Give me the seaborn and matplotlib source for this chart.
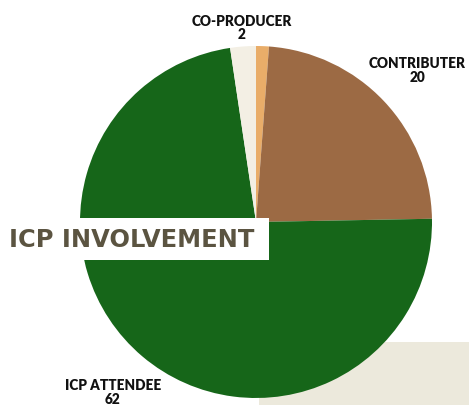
import numpy as np
import matplotlib
matplotlib.use("Agg")
import matplotlib.pyplot as plt
import matplotlib.patches as mpatches
import seaborn as sns

# data
categories = ["", "CONTRIBUTER", "ICP ATTENDEE", "CO-PRODUCER"]
values = [1, 20, 62, 2]
show_label = [False, True, True, True]
colors = ["#e9ad69", "#9c6a44", "#166619", "#f3efe4"]
label_dist = [1.2, 1.26, 1.26, 1.11]

sns.set_theme(style="white")
plt.rcParams["font.family"] = ["Lato", "DejaVu Sans"]

W, H = 469, 406
fig = plt.figure(figsize=(W / 100, H / 100), dpi=100)
ax = fig.add_axes([0, 0, 1, 1])

cx, cy, R = 256, H - 223, 176

# cream block behind the pie
ax.add_patch(mpatches.Rectangle((259, 0), W - 259, H - 343,
                                facecolor="#ece9dc", edgecolor="none", zorder=0))

wedges, _ = ax.pie(values, colors=colors, startangle=90, counterclock=False,
                   center=(cx, cy), radius=R, frame=True,
                   wedgeprops=dict(linewidth=0, zorder=1))
ax.set_xlim(0, W)
ax.set_ylim(0, H)
ax.set_aspect("equal")
ax.axis("off")

for w, name, val, show, d in zip(wedges, categories, values, show_label, label_dist):
    if not show:
        continue
    ang = np.deg2rad((w.theta1 + w.theta2) / 2)
    x = cx + d * R * np.cos(ang)
    y = cy + d * R * np.sin(ang)
    ax.text(x, y, f"{name}\n{val}", ha="center", va="center",
            fontsize=9.8, fontweight="heavy", color="#111111",
            linespacing=1.05, zorder=5)

# title box
ax.add_patch(mpatches.Rectangle((0, H - 261), 269, 42,
                                facecolor="white", edgecolor="none", zorder=3))
ax.text(9, H - 240, "ICP INVOLVEMENT", ha="left", va="center",
        fontsize=17.4, fontweight="bold", color="#5b5441", zorder=4,
        family=["DejaVu Sans"])

fig.savefig("out.png", dpi=100)
